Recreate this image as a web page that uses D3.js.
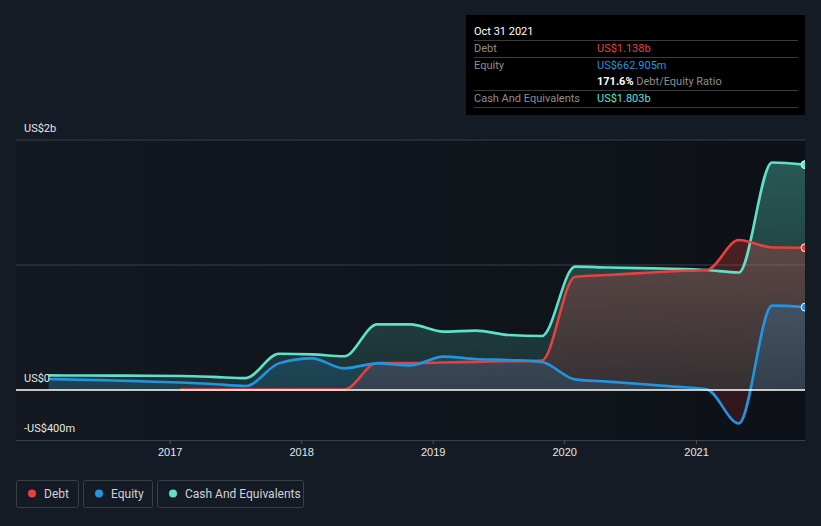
<!DOCTYPE html>
<html><head><meta charset="utf-8">
<script src="https://cdn.jsdelivr.net/npm/d3@7"></script>
<style>
html,body{margin:0;padding:0;background:#151b24;}
svg{display:block;font-family:Roboto,"Noto Sans",sans-serif;}
</style></head>
<body>
<svg id="c" width="821" height="526"></svg>
<script>
// ---- data (US$ billions), quarterly ----
const dates = ["2016-01-31","2016-04-30","2016-07-31","2016-10-31",
 "2017-01-31","2017-04-30","2017-07-31","2017-10-31",
 "2018-01-31","2018-04-30","2018-07-31","2018-10-31",
 "2019-01-31","2019-04-30","2019-07-31","2019-10-31",
 "2020-01-31","2020-04-30","2020-07-31","2020-10-31",
 "2021-01-31","2021-04-30","2021-07-31","2021-10-31"];
const debt = [null,null,null,null,
 0.003,0.003,0.003,0.003,
 0.003,0.003,0.216,0.216,
 0.22,0.225,0.23,0.235,
 0.906,0.92,0.935,0.95,
 0.96,1.2,1.14,1.138];
const equity = [0.088,0.082,0.076,0.068,
 0.06,0.048,0.032,0.213,
 0.253,0.173,0.213,0.197,
 0.267,0.248,0.24,0.224,
 0.085,0.067,0.048,0.027,
 0.005,-0.267,0.675,0.663];
const cash = [0.117,0.116,0.115,0.114,
 0.112,0.105,0.095,0.29,
 0.285,0.27,0.525,0.525,
 0.467,0.475,0.44,0.432,
 0.987,0.98,0.975,0.97,
 0.96,0.94,1.82,1.803];
const yTicks = [2, 1, 0, -0.4];
const yTickLabels = ["US$2b", "", "US$0", "-US$400m"];
const xTickYears = [2017, 2018, 2019, 2020, 2021];
const seriesNames = ["Debt", "Equity", "Cash And Equivalents"];
const seriesColors = ["#e5413f", "#2394df", "#5fe0c9"];

const svg = d3.select("#c");
const L = 16, R = 805, T = 140, B = 440;
const parse = d3.timeParse("%Y-%m-%d");
const D = dates.map(parse);
const yearW = 131.6;
const x = d3.scaleTime()
  .domain([new Date(2016,0,1), new Date(2022,0,1)])
  .range([169.5 - yearW, 169.5 + 5*yearW]);
const y = d3.scaleLinear().domain([-0.4, 2]).range([B, T]);

const defs = svg.append("defs");
defs.append("clipPath").attr("id","plotclip").append("rect")
  .attr("x",L).attr("y",T-10).attr("width",R-L).attr("height",B-T+10);
defs.append("clipPath").attr("id","negclip").append("rect")
  .attr("x",L).attr("y",y(0)).attr("width",R-L).attr("height",B-y(0));
defs.append("clipPath").attr("id","posclip").append("rect")
  .attr("x",L).attr("y",T-10).attr("width",R-L).attr("height",y(0)-T+10);

// plot background
const bgGrad = defs.append("linearGradient").attr("id","bgg")
  .attr("x1",0).attr("y1",0).attr("x2",1).attr("y2",0);
bgGrad.append("stop").attr("offset","0%").attr("stop-color","#131821");
bgGrad.append("stop").attr("offset","100%").attr("stop-color","#0d1117");
svg.append("rect").attr("x",L).attr("y",T).attr("width",R-L).attr("height",B-T)
  .attr("fill","url(#bgg)");

// gridlines
svg.append("g").selectAll("line").data(yTicks.filter(v=>v!==0 && v!==-0.4)).join("line")
  .attr("x1",L).attr("x2",R).attr("y1",d=>y(d)).attr("y2",d=>y(d))
  .attr("stroke","#3a3f47").attr("stroke-width",1);

// gradients for areas
const fillOp = [[0.4,0.14],[0.38,0.15],[0.36,0.13]];
seriesColors.forEach((c,i)=>{
  const g = defs.append("linearGradient").attr("id","ag"+i)
    .attr("gradientUnits","userSpaceOnUse").attr("x1",0).attr("x2",0)
    .attr("y1",T).attr("y2",y(0));
  g.append("stop").attr("offset","0%").attr("stop-color",c).attr("stop-opacity",fillOp[i][0]);
  g.append("stop").attr("offset","100%").attr("stop-color",c).attr("stop-opacity",fillOp[i][1]);
});

const seriesVals = [debt, equity, cash];
const plot = svg.append("g").attr("clip-path","url(#plotclip)");
const areaGen = d3.area().defined(d=>d[1]!==null)
  .x(d=>x(d[0])).y0(y(0)).y1(d=>y(d[1])).curve(d3.curveMonotoneX);
const lineGen = d3.line().defined(d=>d[1]!==null)
  .x(d=>x(d[0])).y(d=>y(d[1])).curve(d3.curveMonotoneX);

const order = [2,0,1];
order.forEach(i=>{
  const pts = D.map((d,k)=>[d, seriesVals[i][k]]);
  plot.append("path").datum(pts).attr("d",areaGen)
    .attr("fill","url(#ag"+i+")")
    .attr("clip-path", "url(#posclip)");
  if(i===1){
    plot.append("path").datum(pts).attr("d",areaGen)
      .attr("fill","#4a1c22").attr("fill-opacity",0.6)
      .attr("clip-path","url(#negclip)");
  }
});

// zero line
svg.append("line").attr("x1",L).attr("x2",R).attr("y1",y(0)).attr("y2",y(0))
  .attr("stroke","#ffffff").attr("stroke-width",1.5);

order.forEach(i=>{
  const pts = D.map((d,k)=>[d, seriesVals[i][k]]);
  plot.append("path").datum(pts).attr("d",lineGen)
    .attr("fill","none").attr("stroke",seriesColors[i]).attr("stroke-width",2.6)
    .attr("stroke-linejoin","round");
});

// end markers
defs.append("clipPath").attr("id","endclip").append("rect")
  .attr("x",0).attr("y",0).attr("width",R).attr("height",526);
const last = D.length-1;
order.forEach(i=>{
  svg.append("circle").attr("cx",x(D[last])).attr("cy",y(seriesVals[i][last]))
    .attr("r",4).attr("fill",seriesColors[i]).attr("stroke","#ffffff").attr("stroke-width",1)
    .attr("clip-path","url(#endclip)");
});

// x axis
const xAxis = d3.axisBottom(x).tickValues(xTickYears.map(yr=>new Date(yr,0,1)))
  .tickFormat(d3.timeFormat("%Y")).tickSize(4).tickPadding(4);
const xg = svg.append("g").attr("transform",`translate(0,${B})`).call(xAxis);
xg.select(".domain").attr("d",`M${L},0.5H${R}`).attr("stroke","#3a3f47");
xg.selectAll(".tick line").attr("stroke","#4a4f57");
xg.selectAll("text").attr("fill","#e6e6e6").attr("font-size",11);

// y labels
svg.append("g").selectAll("text").data(yTicks.map((v,i)=>[v,yTickLabels[i]]).filter(d=>d[1]))
  .join("text").attr("x",24).attr("y",d=>y(d[0])-8).attr("fill","#e6e6e6")
  .attr("font-size",11).text(d=>d[1]);

// tooltip box
const tip = svg.append("g");
tip.append("rect").attr("x",466).attr("y",15).attr("width",339).attr("height",100).attr("fill","#000000");
tip.append("text").attr("x",474).attr("y",35).attr("fill","#ffffff").attr("font-size",11).text("Oct 31 2021");
[40.5,57.5,90.5,107.5].forEach(yy=>tip.append("line").attr("x1",474).attr("x2",798)
  .attr("y1",yy).attr("y2",yy).attr("stroke","#3c3c3c"));
const rows = [
  {label:"Debt", value:"US$1.138b", color:seriesColors[0], y:52},
  {label:"Equity", value:"US$662.905m", color:seriesColors[1], y:69},
  {label:"Cash And Equivalents", value:"US$1.803b", color:seriesColors[2], y:102}
];
rows.forEach(r=>{
  tip.append("text").attr("x",474).attr("y",r.y).attr("fill","#8e8e8e").attr("font-size",11).text(r.label);
  tip.append("text").attr("x",597).attr("y",r.y).attr("fill",r.color).attr("font-size",11).text(r.value);
});
const rt = tip.append("text").attr("x",597).attr("y",85).attr("font-size",11);
rt.append("tspan").attr("fill","#ffffff").attr("font-weight","bold").text("171.6%");
rt.append("tspan").attr("fill","#8e8e8e").text(" Debt/Equity Ratio");

// legend
const legendBoxes = [[16.5,62],[83.5,69],[157.5,146]];
seriesNames.forEach((n,i)=>{
  const g = svg.append("g");
  g.append("rect").attr("x",legendBoxes[i][0]).attr("y",480.5).attr("width",legendBoxes[i][1]).attr("height",27)
    .attr("rx",2).attr("fill","none").attr("stroke","#3a3f47");
  g.append("circle").attr("cx",legendBoxes[i][0]+15.5).attr("cy",493.5).attr("r",4).attr("fill",seriesColors[i]);
  g.append("text").attr("x",legendBoxes[i][0]+27.5).attr("y",497.5).attr("fill","#cfd2d6")
    .attr("font-size",12).text(n);
});
</script>
</body></html>
